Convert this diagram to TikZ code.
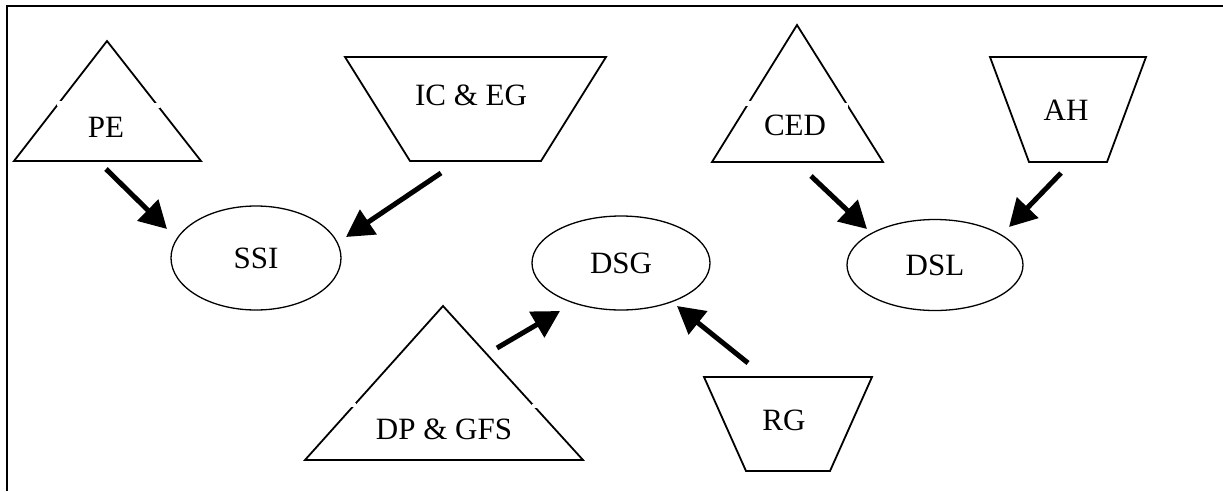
\documentclass[tikz,border=0pt]{standalone}
\usepackage{fontspec}
\setmainfont{Liberation Serif}
\usetikzlibrary{arrows.meta,shapes.geometric}
\begin{document}
\begin{tikzpicture}[x=1pt,y=-1pt,
  shapeline/.style={draw=black,line width=1.8pt,line join=miter},
  lbl/.style={inner sep=0pt,font=\fontsize{31}{36}\selectfont},
  oval/.style={ellipse,draw=black,line width=1.3pt,inner sep=0pt,font=\fontsize{31}{36}\selectfont},
  bigarrow/.style={line width=5pt,-{Triangle[length=27pt,width=29pt]}},
  gapmask/.style={fill=white}]
\useasboundingbox (0,0) rectangle (1223,491);
% frame (left and top edges)
\draw[line width=1.5pt] (7,491) -- (7,6) -- (1223,6);

% PE triangle
\draw[shapeline] (107,41) -- (201,161) -- (14,161) -- cycle;
\fill[gapmask] (57,101) rectangle (63,106);
\fill[gapmask] (154,103) rectangle (160,108);
\node[lbl] (pe) at (106,127) {PE};

% IC & EG trapezoid
\draw[shapeline] (345,57) -- (606,57) -- (541,161) -- (410,161) -- cycle;
\node[lbl] (iceg) at (471,95) {IC \& EG};

% CED triangle
\draw[shapeline] (797,25) -- (883,162) -- (712,162) -- cycle;
\fill[gapmask] (745,101) rectangle (751,106);
\fill[gapmask] (842,103) rectangle (848,108);
\node[lbl] (ced) at (795,125) {CED};

% AH trapezoid
\draw[shapeline] (990,57) -- (1146,57) -- (1107,162) -- (1029,162) -- cycle;
\node[lbl] (ah) at (1066,110) {AH};

% DP & GFS triangle
\draw[shapeline] (443,306) -- (583,460) -- (305,460) -- cycle;
\fill[gapmask] (350,403) rectangle (356,407);
\fill[gapmask] (532,404) rectangle (538,408);
\node[lbl] (dpgfs) at (444,429) {DP \& GFS};

% RG trapezoid
\draw[shapeline] (704,377) -- (872,377) -- (830,471) -- (746,471) -- cycle;
\node[lbl] (rg) at (784,420) {RG};

% ellipses
\node[oval,minimum width=170pt,minimum height=104pt] (ssi) at (256,258) {SSI};
\node[oval,minimum width=178pt,minimum height=94pt] (dsg) at (621,263) {DSG};
\node[oval,minimum width=176pt,minimum height=91pt] (dsl) at (935,265) {DSL};

% arrow end points
\coordinate (a1s) at (106,169); \coordinate (a1e) at (167,229);
\coordinate (a2s) at (441,173); \coordinate (a2e) at (346,237);
\coordinate (a3s) at (811,176); \coordinate (a3e) at (867,229);
\coordinate (a4s) at (1061,173); \coordinate (a4e) at (1009,227);
\coordinate (a5s) at (497,348); \coordinate (a5e) at (560,311);
\coordinate (a6s) at (748,363); \coordinate (a6e) at (677,306);

\draw[bigarrow] (a1s) -- (a1e);
\draw[bigarrow] (a2s) -- (a2e);
\draw[bigarrow] (a3s) -- (a3e);
\draw[bigarrow] (a4s) -- (a4e);
\draw[bigarrow] (a5s) -- (a5e);
\draw[bigarrow] (a6s) -- (a6e);
\end{tikzpicture}
\end{document}
